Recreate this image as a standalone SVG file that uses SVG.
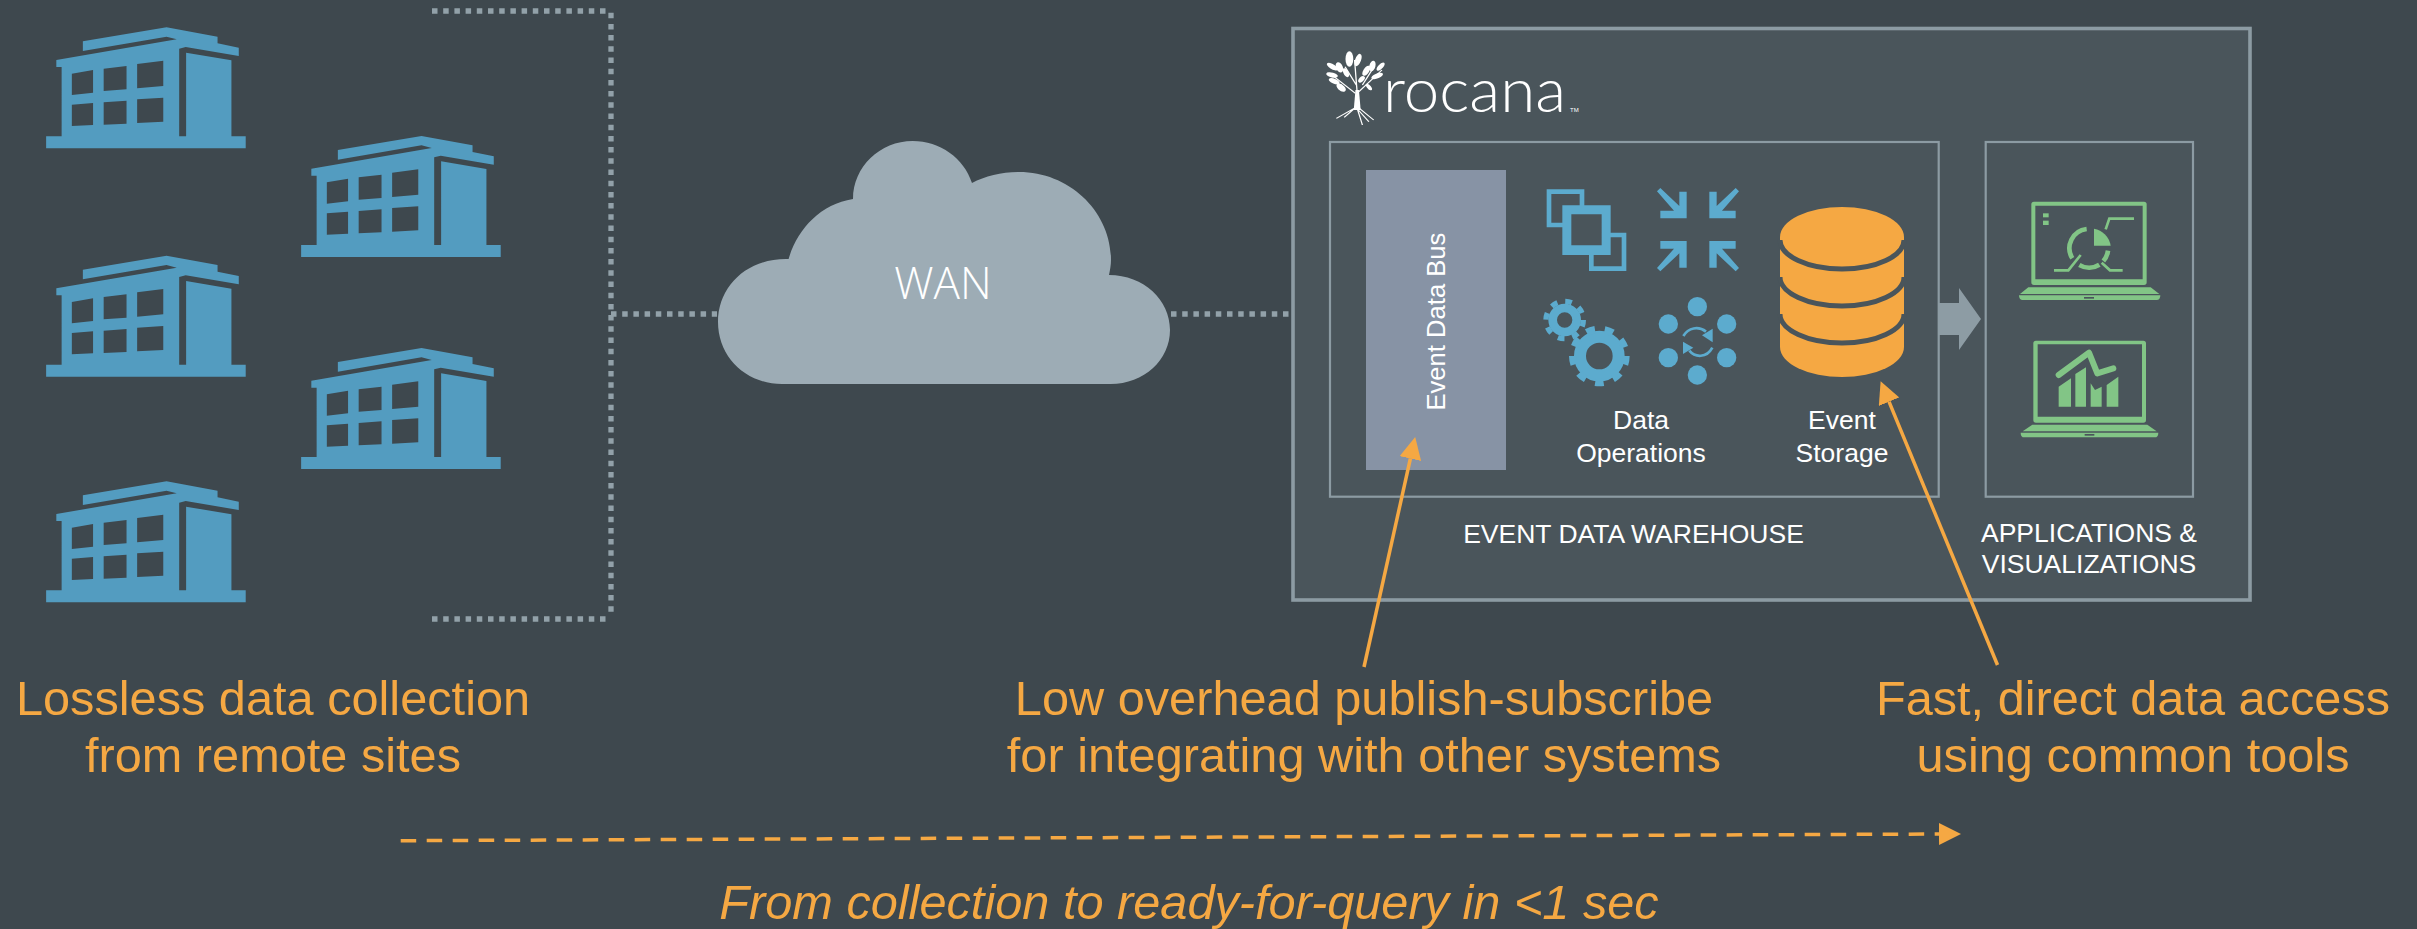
<svg xmlns="http://www.w3.org/2000/svg" width="2417" height="929" viewBox="0 0 2417 929">
<style>
text{font-family:"Liberation Sans",Arial,sans-serif}
.w{fill:#fff;font-size:26.5px;text-anchor:middle}
.o{fill:#f5a843;font-size:48.7px;text-anchor:middle}
.dot{fill:none;stroke:#92a1a9;stroke-width:5.3;stroke-dasharray:5.5 5.7}
.call{fill:none;stroke:#f5a843;stroke-width:3.5}
.frame{fill:none;stroke:#8c9ba3;stroke-width:2.2}
.blue{fill:#5cabce}
.green{fill:#82c586}
.gl{fill:none;stroke:#82c586}
.dark{fill:#4a555b}
</style>
<defs>
<path id="bld" fill="#539cc0" fill-rule="evenodd" transform="scale(.40816 .33333)" d="M203,124L408,82L533,110V130L585,143V168L455,141L439,146V409H456V158L567,181V409H602V445H113V409H151V201H138V180L433,118L408,110L203,153Z M176,221L228,210V278L176,285Z M254,206L310,198V268L254,273Z M336,192L400,182V258L336,265Z M176,314L228,309V375L176,378Z M254,307L310,302V371L254,374Z M336,298L400,293V365L336,369Z"/>
<marker id="head" markerUnits="userSpaceOnUse" markerWidth="22" markerHeight="22" refX="0" refY="11" orient="auto"><path d="M0,0L22,11L0,22Z" fill="#f5a843"/></marker>
<path id="arr" class="blue" d="M478,65H500V145H421V122H462L411,64L421,54L478,108Z"/>
</defs>
<rect width="2417" height="929" fill="#3e484e"/>

<g id="site-1"><use href="#bld"/></g>
<g id="site-2"><use href="#bld" transform="translate(255 108.7)"/></g>
<g id="site-3"><use href="#bld" transform="translate(0 228.3)"/></g>
<g id="site-4"><use href="#bld" transform="translate(255 320.7)"/></g>
<g id="site-5"><use href="#bld" transform="translate(0 454)"/></g>

<g id="wan">
<path fill="#9dacb5" d="M782,384C746,384 718,357 718,322C718,287 746,259 786,259L788.6,259C797,230 820,204 853,199C853,167 880,141 912.7,141C940,141 964,158 972,183C985,176 1002,172 1019,172C1070,172 1111,212 1111,260C1111,265 1110,270 1109,275C1144,275 1170,300 1170,330C1170,360 1144,384 1110.6,384Z"/>
<text x="943" y="299" fill="#fff" font-size="44" text-anchor="middle" style="font-family:'Open Sans','Liberation Sans',sans-serif;font-weight:300">WAN</text>
</g>

<g id="warehouse-frame"><rect x="1293" y="28.5" width="957" height="571.5" fill="#4a555b" stroke="#8c9ba3" stroke-width="3.6"/></g>

<g id="logo" fill="#fff">
<g transform="translate(1280 10) scale(.4337 .33333)">
<ellipse cx="160" cy="147" rx="9" ry="23"/>
<ellipse cx="180" cy="150" rx="7" ry="19" transform="rotate(15 180 150)"/>
<ellipse cx="137" cy="172" rx="8" ry="16" transform="rotate(-15 137 172)"/>
<ellipse cx="121" cy="170" rx="7" ry="16" transform="rotate(-50 121 170)"/>
<ellipse cx="213" cy="168" rx="7" ry="16" transform="rotate(10 213 168)"/>
<ellipse cx="232" cy="170" rx="6" ry="14" transform="rotate(35 232 170)"/>
<ellipse cx="199" cy="182" rx="7" ry="16" transform="rotate(25 199 182)"/>
<ellipse cx="152" cy="188" rx="6" ry="14" transform="rotate(-20 152 188)"/>
<ellipse cx="120" cy="195" rx="7" ry="14" transform="rotate(-70 120 195)"/>
<ellipse cx="224" cy="198" rx="7" ry="15" transform="rotate(60 224 198)"/>
<ellipse cx="125" cy="214" rx="7" ry="14" transform="rotate(-60 125 214)"/>
<ellipse cx="141" cy="233" rx="8" ry="14" transform="rotate(-40 141 233)"/>
<ellipse cx="188" cy="208" rx="6" ry="11" transform="rotate(30 188 208)"/>
<ellipse cx="205" cy="231" rx="5" ry="11" transform="rotate(-30 205 231)"/>
<path d="M170,300L174,240L182,240L186,300Z"/>
<path d="M178,250L172,150M174,250L115,190M182,245L235,180M176,225L150,170M190,225L212,180M178,290L130,325M172,295L148,322M178,295L190,345M181,293L216,330M178,296L205,335" fill="none" stroke="#fff" stroke-width="3"/>
</g>
<text x="1383" y="111.5" font-size="62" style="font-family:Lato,'Liberation Sans',sans-serif;font-weight:300" textLength="183" lengthAdjust="spacingAndGlyphs">rocana</text>
<text x="1570" y="112" font-size="6">TM</text>
</g>

<g id="warehouse-box"><rect class="frame" x="1330" y="142" width="608.7" height="354.7"/>
<text class="w" x="1633.5" y="542.7">EVENT DATA WAREHOUSE</text></g>

<g id="event-data-bus"><rect x="1366" y="170" width="140" height="300" fill="#8793a5"/>
<text x="0" y="0" fill="#fff" font-size="25.6" transform="translate(1445 410.5) rotate(-90)">Event Data Bus</text></g>

<g id="data-operations">
<g transform="translate(1520 170) scale(.33333)">
<path class="blue" fill-rule="evenodd" d="M80,58H193V106H179V72H94V158H127V172H80Z M127,106H272V188H319V303H207V255H127Z M154,133V226H245V133Z M221,255V289H305V202H272V255Z"/>
<g id="compress">
<use href="#arr"/>
<use href="#arr" transform="translate(1068 0) scale(-1 1)"/>
<use href="#arr" transform="translate(0 358) scale(1 -1)"/>
<use href="#arr" transform="translate(1068 358) scale(-1 -1)"/>
</g>
<g fill="none" stroke="#5cabce">
<circle cx="134" cy="450" r="36" stroke-width="26"/>
<circle cx="134" cy="450" r="56" stroke-width="16" stroke-dasharray="20 24"/>
<circle cx="238" cy="558" r="58" stroke-width="36"/>
<circle cx="238" cy="558" r="80" stroke-width="22" stroke-dasharray="26 29.85"/>
</g>
<g class="blue">
<circle cx="532" cy="410" r="29"/><circle cx="445" cy="462" r="29"/><circle cx="620" cy="462" r="29"/>
<circle cx="445" cy="563" r="29"/><circle cx="620" cy="563" r="29"/><circle cx="532" cy="615" r="29"/>
<path d="M578,476V517L546,496Z M489,515V552L520,533Z"/>
</g>
<path d="M490,498C505,473 535,467 558,485M577,533C560,565 525,563 508,542" fill="none" stroke="#5cabce" stroke-width="8"/>
</g>
<text class="w" x="1641" y="429">Data</text>
<text class="w" x="1641" y="461.7">Operations</text>
</g>

<g id="event-storage">
<path fill="#f5a843" d="M1780,237A62,30 0 0 1 1904,237V347A62,30 0 0 1 1780,347Z"/>
<path d="M1780,240A62,29 0 0 0 1904,240M1780,277A62,29 0 0 0 1904,277M1780,314A62,29 0 0 0 1904,314" fill="none" stroke="#4a555b" stroke-width="5"/>
<text class="w" x="1842" y="429">Event</text>
<text class="w" x="1842" y="461.7">Storage</text>
</g>

<g id="applications"><rect class="frame" x="1985.7" y="142" width="207.3" height="354.7"/>
<text class="w" x="2089" y="542.3">APPLICATIONS &amp;</text>
<text class="w" x="2089" y="573.3">VISUALIZATIONS</text>
<g id="laptop-pie" transform="translate(1900 120) scale(.33333)">
<path class="green" fill-rule="evenodd" d="M402,245H732Q740,245 740,253V487Q740,495 732,495H402Q394,495 394,487V253Q394,245 402,245Z M406,257V478H728V257Z"/>
<path class="green" d="M385,502H752L778,522H360Z M357,526H781Q781,540 770,540H368Q357,540 357,526Z"/>
<rect class="dark" x="552" y="531" width="30" height="5"/>
<rect class="green" x="429" y="280" width="17" height="12"/><rect class="green" x="429" y="302" width="17" height="13"/>
<path class="gl" stroke-width="14" d="M560,327A58,58 0 0 0 517,415M538,435A58,58 0 0 0 598,434M610,423A58,58 0 0 0 624,392"/>
<path class="green" d="M582,326A62,62 0 0 1 632,377H582Z"/>
<path class="gl" stroke-width="8" d="M462,451H505L542,405M605,428L630,451H668M617,328L628,296H702"/>
</g>
<g id="laptop-chart" transform="translate(1900 120) scale(.33333)">
<path class="green" fill-rule="evenodd" d="M408,662H730Q738,662 738,670V900Q738,908 730,908H408Q400,908 400,900V670Q400,662 408,662Z M413,673V890H726V673Z"/>
<path class="green" d="M397,914H742L770,934H368Z M362,938H775Q775,952 764,952H373Q362,952 362,938Z"/>
<rect class="dark" x="554" y="942" width="29" height="5"/>
<path class="green" d="M476,860V800L513,775V860Z M526,860V762L558,742V860Z M572,860V790L585,810L605,800V860Z M620,860V795L655,770V860Z"/>
<path class="gl" stroke-width="18" stroke-linecap="round" stroke-linejoin="round" d="M476,765L567,698L592,760L640,745"/>
</g>
</g>

<g id="connectors">
<path class="dot" d="M432,11H606"/>
<path class="dot" d="M611,12.7V617"/>
<path class="dot" d="M432,619H606"/>
<path class="dot" d="M611,314H717"/>
<path class="dot" d="M1171,314H1290"/>
<path fill="#8d9ca4" d="M1938,303H1959V288L1981,319L1959,350V335H1938Z"/>
<path class="call" d="M1364,667L1410.4,458.5" marker-end="url(#head)"/>
<path class="call" d="M1997.5,665L1889,401.7" marker-end="url(#head)"/>
<path class="call" stroke-dasharray="15.5 10.5" d="M400.7,840.7L1939,834" marker-end="url(#head)"/>
</g>

<g id="captions">
<text class="o" x="273" y="715">Lossless data collection</text>
<text class="o" x="273" y="772.3">from remote sites</text>
<text class="o" x="1364" y="715">Low overhead publish-subscribe</text>
<text class="o" x="1364" y="772.3">for integrating with other systems</text>
<text class="o" x="2133" y="714.5">Fast, direct data access</text>
<text class="o" x="2133" y="772.3">using common tools</text>
<text class="o" x="1189" y="919" font-style="italic">From collection to ready-for-query in &lt;1 sec</text>
</g>
</svg>
